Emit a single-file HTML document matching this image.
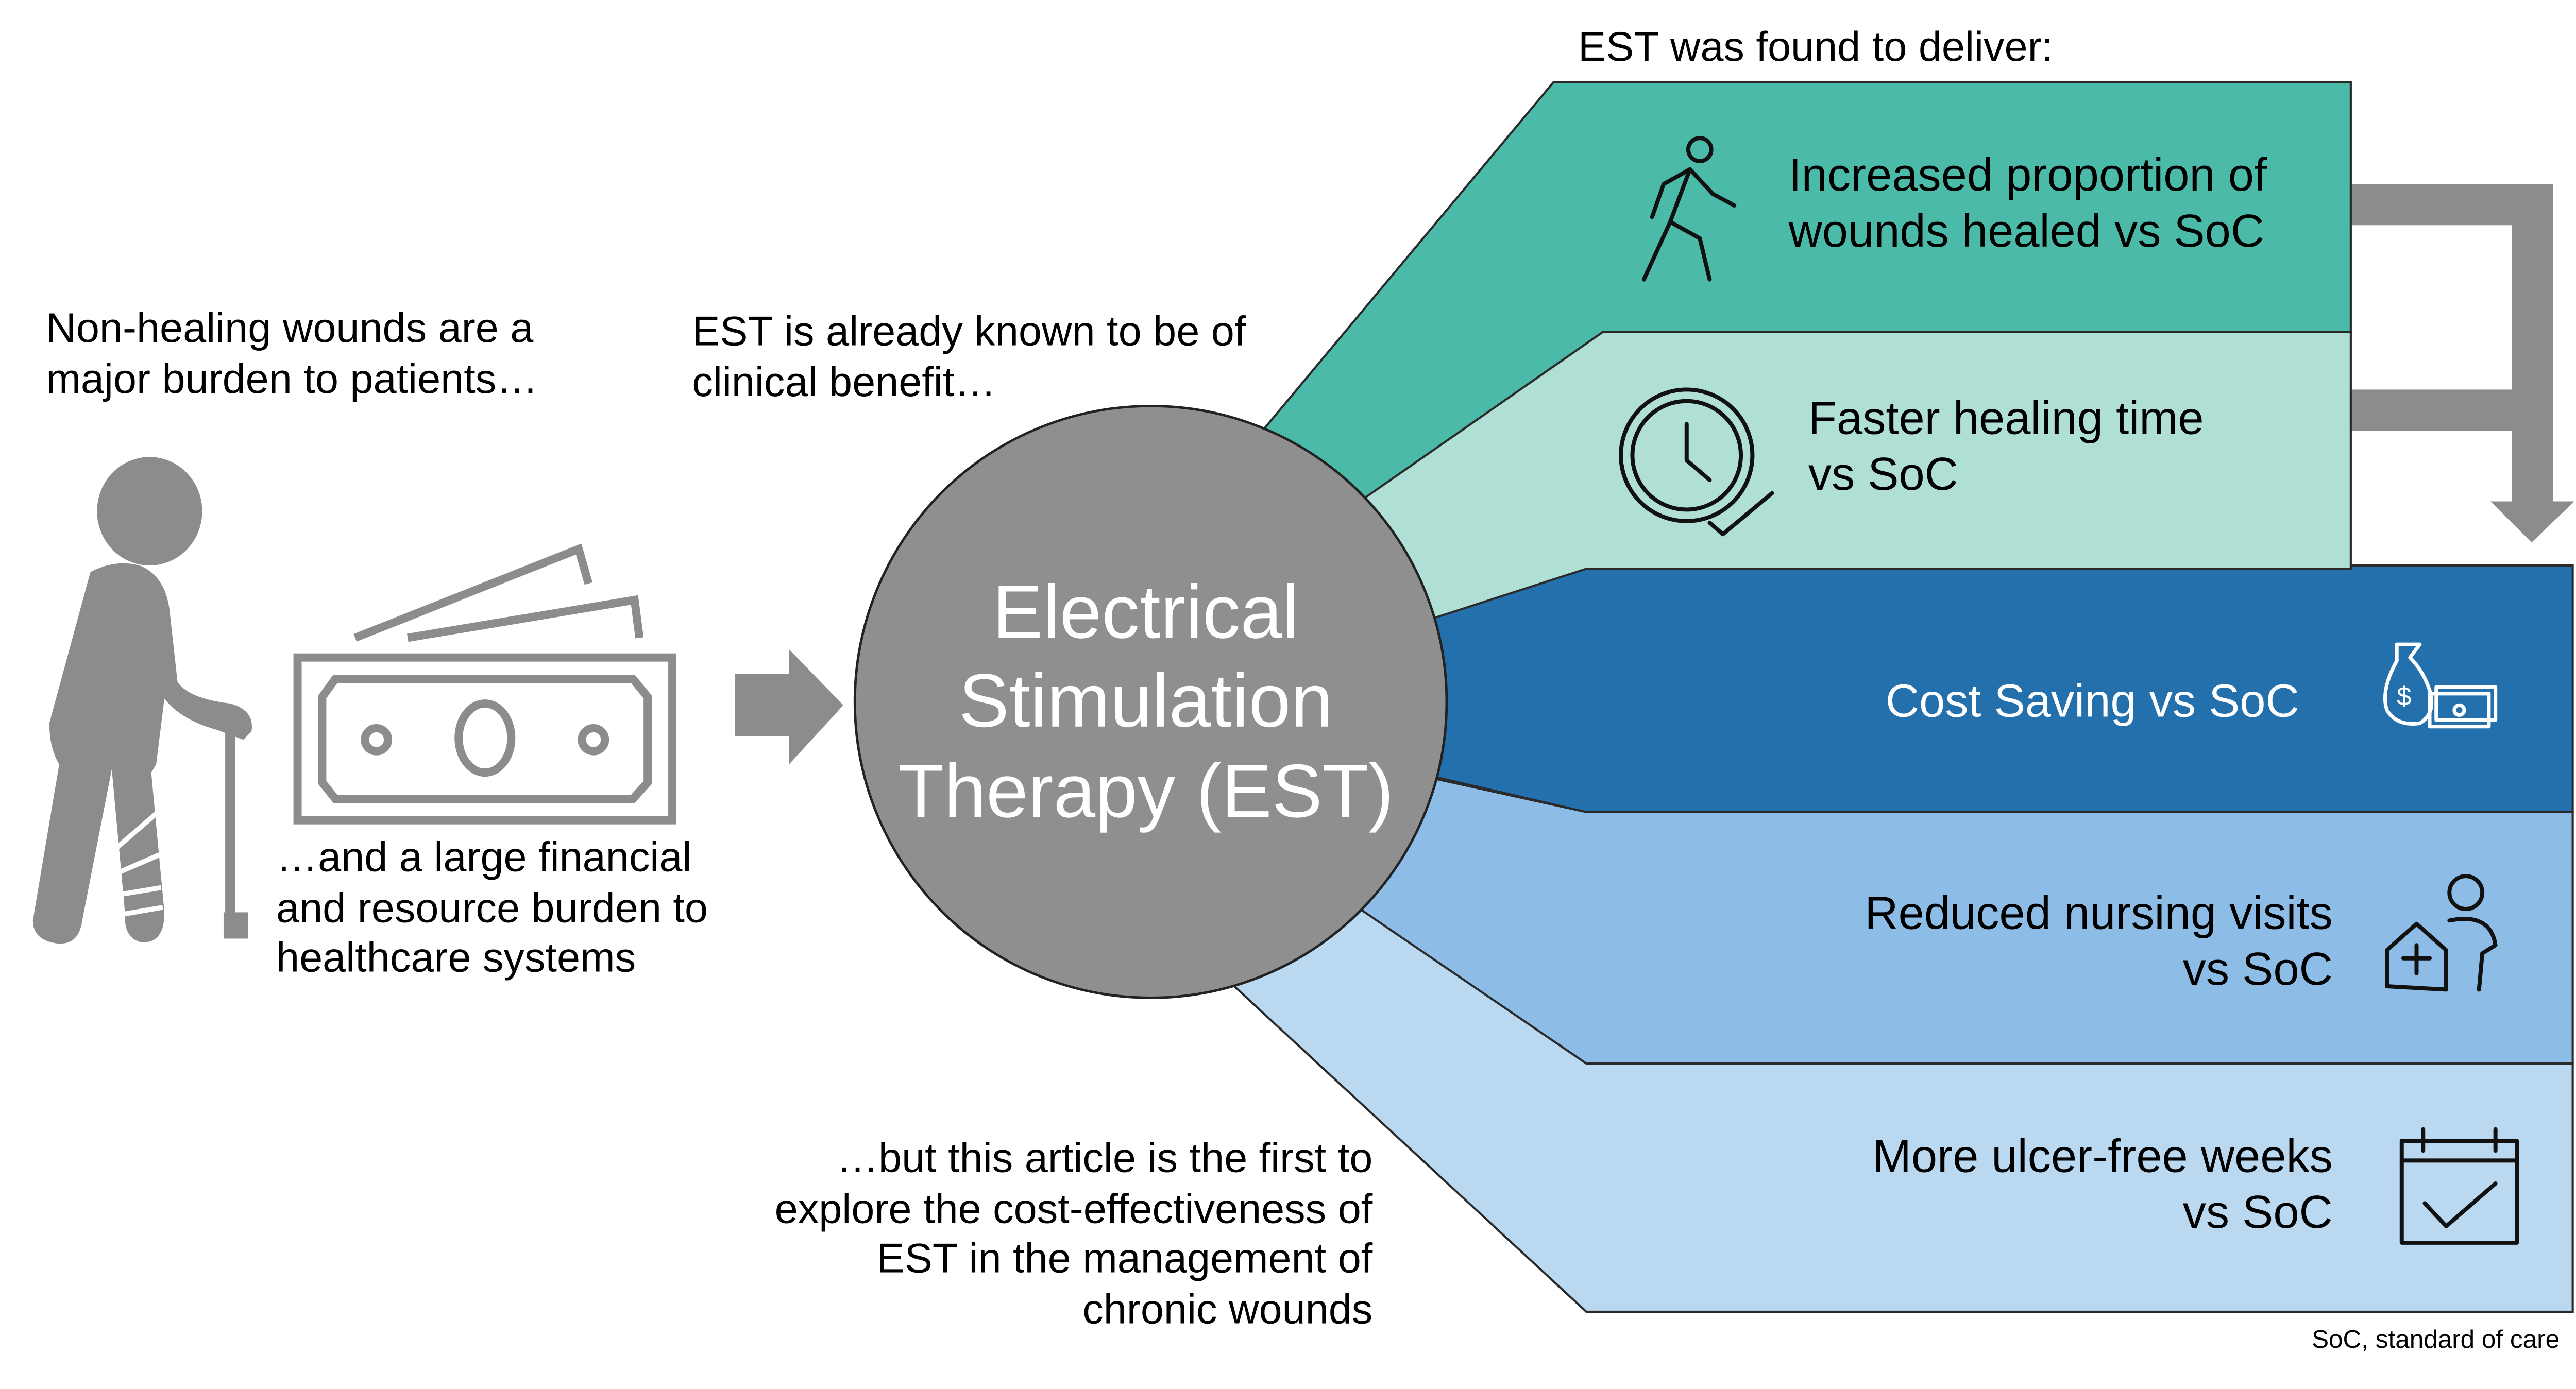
<!DOCTYPE html>
<html><head><meta charset="utf-8"><style>
html,body{margin:0;padding:0;background:#fff;}
svg{display:block;}
text{font-family:"Liberation Sans",Arial,sans-serif;}
</style></head><body>
<svg width="5067" height="2697" viewBox="0 0 1588 845" preserveAspectRatio="none" xmlns="http://www.w3.org/2000/svg">
<rect width="1588" height="845" fill="#fff"/>
<g fill="#8c8c8c">
<rect x="1430" y="112" width="123" height="25"/>
<rect x="1528" y="112" width="25" height="195"/>
<rect x="1430" y="237" width="100" height="25"/>
<polygon points="1515,305 1566,305 1540,330"/>
</g>
<g stroke="#2a2a2a" stroke-width="1.3">
<polygon points="965,647 1565,647 1565,798 965,798 740,590 828,540" fill="#bad9f1"/>
<polygon points="965,494 1565,494 1565,647 965,647 820,548 874,474" fill="#8dbde6"/>
<polygon points="965,344 1565,344 1565,494 965,494 870,472 870,372" fill="#2470ad"/>
<polygon points="945,50 1430,50 1430,202 975,202 820,320 768,262" fill="#4cbaa9"/>
<polygon points="975,202 1430,202 1430,346 965,346 860,380 820,310" fill="#b0dfd6"/>
</g>
<circle cx="700" cy="427" r="180" fill="#8f8f8f" stroke="#222" stroke-width="1.5"/>
<g fill="#fff" font-size="46" text-anchor="middle">
<text x="697" y="388">Electrical</text>
<text x="697" y="442">Stimulation</text>
<text x="697" y="497">Therapy (EST)</text>
</g>
<polygon points="447,410 480,410 480,395 513,429 480,465 480,448 447,448" fill="#8c8c8c"/>
<g fill="#8c8c8c">
<ellipse cx="91" cy="311" rx="32" ry="33"/>
<path d="M55,348 Q70,340 85,344 Q100,350 103,370 L108,415 Q115,425 140,428 Q155,432 153,445 L148,450 L132,444 Q110,438 100,425 L95,465 L92,470 L100,555 Q100,575 85,573 Q75,570 76,555 L68,468 L50,560 Q48,575 35,574 Q20,572 20,560 L36,465 Q30,455 30,440 Z"/>
<rect x="137" y="433" width="6" height="128"/>
<rect x="136" y="555" width="15" height="16"/>
</g>
<g stroke="#fff" stroke-width="3">
<line x1="66" y1="520" x2="95" y2="495"/>
<line x1="67" y1="533" x2="97" y2="520"/>
<line x1="68" y1="545" x2="98" y2="540"/>
<line x1="70" y1="557" x2="99" y2="552"/>
</g>
<g fill="none" stroke="#8c8c8c" stroke-width="5">
<rect x="181" y="400" width="228" height="99"/>
<path d="M204,413 L385,413 L394,424 L394,476 L385,486 L204,486 L196,476 L196,424 Z"/>
<ellipse cx="295" cy="449" rx="16" ry="21"/>
<circle cx="229" cy="450" r="7"/>
<circle cx="361" cy="450" r="7"/>
<path d="M216,388 L352,334 L358,355"/>
<path d="M248,388 L386,365 L389,388"/>
</g>
<g font-size="25.4" fill="#000">
<text x="28" y="208">Non-healing wounds are a</text>
<text x="28" y="239">major burden to patients…</text>
<text x="421" y="210">EST is already known to be of</text>
<text x="421" y="241">clinical benefit…</text>
<text x="168" y="530">…and a large financial</text>
<text x="168" y="561">and resource burden to</text>
<text x="168" y="591">healthcare systems</text>
<g text-anchor="end">
<text x="835" y="713">…but this article is the first to</text>
<text x="835" y="744">explore the cost-effectiveness of</text>
<text x="835" y="774">EST in the management of</text>
<text x="835" y="805">chronic wounds</text>
</g>
<text x="960" y="37">EST was found to deliver:</text>
</g>
<g font-size="28.3" fill="#000">
<text x="1088" y="116">Increased proportion of</text>
<text x="1088" y="150">wounds healed vs SoC</text>
<text x="1100" y="264">Faster healing time</text>
<text x="1100" y="298">vs SoC</text>
<text x="1147" y="436" fill="#fff">Cost Saving vs SoC</text>
<g text-anchor="end">
<text x="1419" y="565">Reduced nursing visits</text>
<text x="1419" y="599">vs SoC</text>
<text x="1419" y="713">More ulcer-free weeks</text>
<text x="1419" y="747">vs SoC</text>
</g>
</g>
<text x="1557" y="820" font-size="15.5" text-anchor="end">SoC, standard of care</text>
<g fill="none" stroke="#111" stroke-width="2.5" stroke-linecap="round" stroke-linejoin="round">
<circle cx="1034" cy="91" r="7"/>
<path d="M1028,103 L1016,135 L1000,170 M1028,103 L1042,118 L1055,125 M1028,103 L1012,112 L1005,132 M1016,135 L1034,145 L1040,170"/>
<circle cx="1026" cy="277" r="40"/>
<circle cx="1026" cy="277" r="33"/>
<path d="M1026,258 L1026,280 L1040,292 M1040,318 L1048,325 L1078,300"/>
<circle cx="1500" cy="543" r="10"/>
<path d="M1490,560 Q1515,555 1518,575 L1510,580 L1508,602 M1452,600 L1452,578 L1470,562 L1488,578 L1488,602 Z M1470,575 L1470,592 M1462,583 L1478,583"/>
<rect x="1461" y="694" width="70" height="62"/>
<path d="M1461,706 L1531,706 M1474,687 L1474,700 M1518,687 L1518,700 M1475,732 L1488,746 L1518,720"/>
</g>
<g fill="none" stroke="#fff" stroke-width="2.2" stroke-linecap="round" stroke-linejoin="round">
<path d="M1458,402 Q1448,420 1452,432 Q1458,442 1472,440 Q1482,434 1478,420 Q1474,408 1466,400 L1472,392 L1458,392 Z"/>
<text x="1458" y="429" font-size="16" fill="#fff" stroke="none">$</text>
<rect x="1482" y="418" width="36" height="20"/>
<rect x="1478" y="422" width="36" height="20"/>
<circle cx="1496" cy="432" r="3"/>
</g>
</svg>
</body></html>
